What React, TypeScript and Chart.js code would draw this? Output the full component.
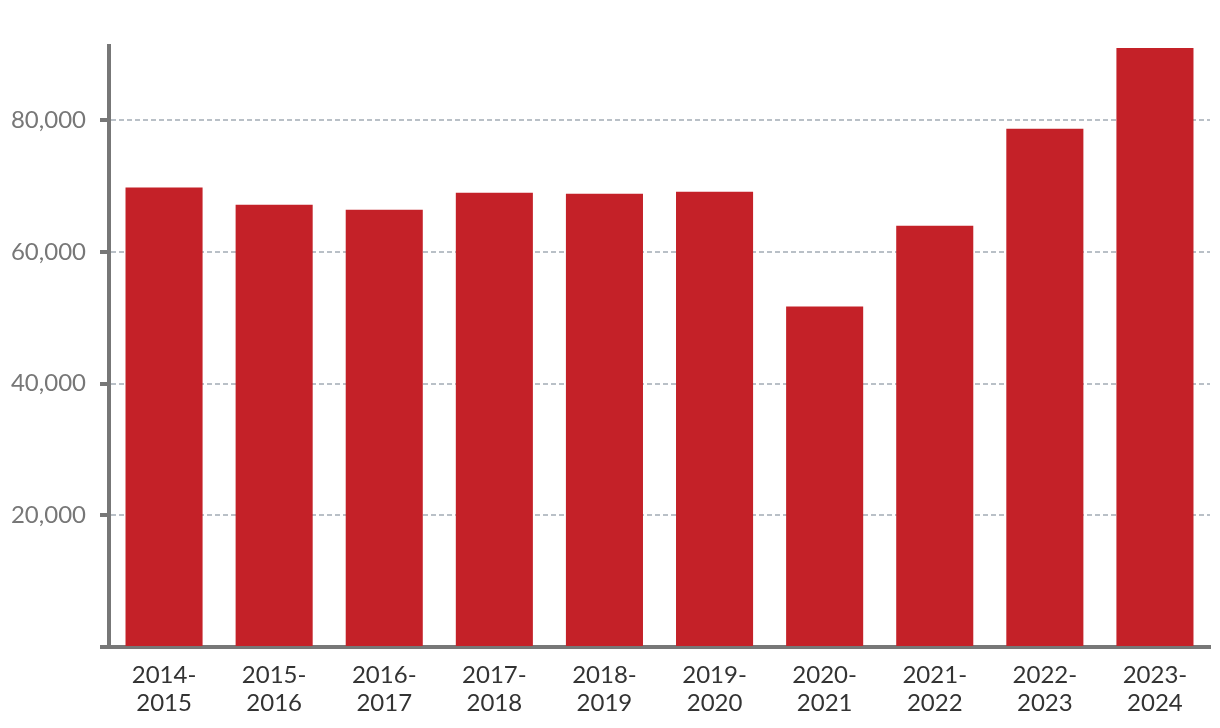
import React, { useEffect, useRef } from "react";
import { Chart, registerables } from "chart.js";

Chart.register(...registerables);

const categories: string[][] = [
  ["2014-", "2015"],
  ["2015-", "2016"],
  ["2016-", "2017"],
  ["2017-", "2018"],
  ["2018-", "2019"],
  ["2019-", "2020"],
  ["2020-", "2021"],
  ["2021-", "2022"],
  ["2022-", "2023"],
  ["2023-", "2024"],
];

const values: number[] = [69800, 67200, 66440, 69020, 68870, 69170, 51710, 64010, 78740, 91000];

const yTicks: number[] = [0, 20000, 40000, 60000, 80000];
const yMax = 91300;

export default function App() {
  const ref = useRef<HTMLCanvasElement | null>(null);

  useEffect(() => {
    document.body.style.margin = "0";
    if (!ref.current) return;
    const chart = new Chart(ref.current, {
      type: "bar",
      data: {
        labels: categories,
        datasets: [
          {
            data: values,
            backgroundColor: "#c42128",
            borderWidth: 0,
            barPercentage: 0.7,
            categoryPercentage: 1,
          },
        ],
      },
      options: {
        animation: false,
        responsive: true,
        maintainAspectRatio: false,
        layout: { padding: { top: 46, right: 10, left: 0, bottom: 0 } },
        plugins: {
          legend: { display: false },
          tooltip: { enabled: false },
        },
        scales: {
          x: {
            grid: { display: false, drawTicks: false },
            border: { display: true, color: "#777777", width: 4 },
            ticks: {
              color: "#333333",
              font: { family: "Lato", size: 24, lineHeight: 1.17 },
              padding: 14,
              maxRotation: 0,
              autoSkip: false,
            },
            afterFit: (scale: any) => {
              scale.height = 81;
            },
          },
          y: {
            min: 0,
            max: yMax,
            afterBuildTicks: (scale: any) => {
              scale.ticks = yTicks.map((v) => ({ value: v }));
            },
            ticks: {
              color: "#777777",
              font: { family: "Lato", size: 24 },
              padding: 14,
              autoSkip: false,
              callback: (v: any) => (Number(v) === 0 ? "" : Number(v).toLocaleString("en-US")),
            },
            grid: {
              color: "#b9c0c7",
              lineWidth: 2,
              drawTicks: true,
              tickLength: 9,
              tickColor: "#777777",
              tickWidth: 4,
            },
            border: { display: true, color: "#777777", width: 4, dash: [5, 3] },
            afterFit: (scale: any) => {
              scale.width = 109;
            },
          },
        },
      },
    });
    return () => chart.destroy();
  }, []);

  return (
    <div style={{ width: 1220, height: 728, position: "relative" }}>
      <canvas ref={ref} />
    </div>
  );
}
